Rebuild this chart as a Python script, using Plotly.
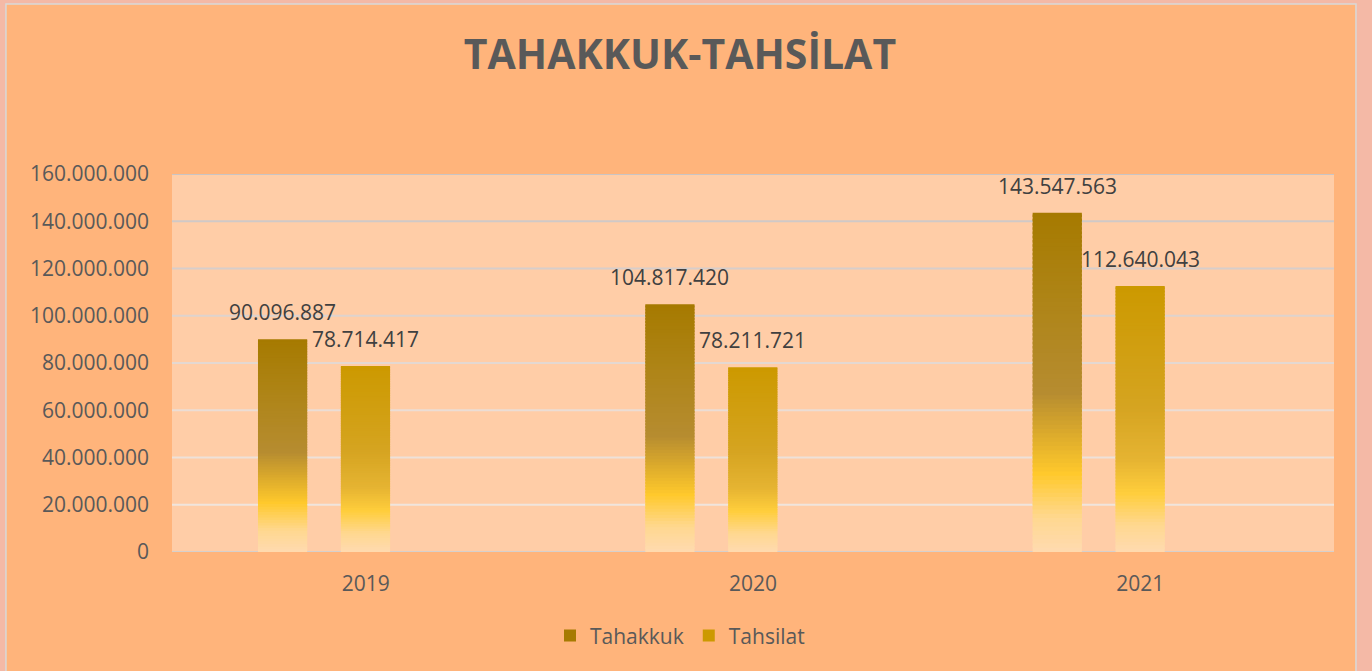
import plotly.graph_objects as go

years = ["2019", "2020", "2021"]
tahakkuk = [90096887, 104817420, 143547563]
tahsilat = [78714417, 78211721, 112640043]
y_ticks = [0, 20000000, 40000000, 60000000, 80000000, 100000000, 120000000, 140000000, 160000000]

FONT = "Open Sans"
TXT = "#595959"


def hex2rgb(h):
    h = h.lstrip("#")
    return [int(h[i:i + 2], 16) for i in (0, 2, 4)]


def grad(stops, t):
    # stops: list of (pos, hex), pos 0=bottom 1=top
    for (p0, c0), (p1, c1) in zip(stops, stops[1:]):
        if p0 <= t <= p1:
            f = 0 if p1 == p0 else (t - p0) / (p1 - p0)
            a, b = hex2rgb(c0), hex2rgb(c1)
            return "rgb(%d,%d,%d)" % tuple(round(a[i] + (b[i] - a[i]) * f) for i in range(3))
    return stops[-1][1]


stops_tahakkuk = [(0.0, "#FFDAB0"), (0.10, "#FFD890"), (0.23, "#FFC92C"), (0.35, "#DBAA2C"),
                  (0.47, "#B68C30"), (0.75, "#AE8416"), (1.0, "#A67A00")]
stops_tahsilat = [(0.0, "#FFDAB0"), (0.10, "#FFD890"), (0.22, "#FFCE3C"), (0.35, "#E5B332"),
                  (0.55, "#D5A420"), (1.0, "#CC9900")]

series = [
    ("Tahakkuk", tahakkuk, stops_tahakkuk, -0.278),
    ("Tahsilat", tahsilat, stops_tahsilat, -0.064),
]
BAR_W = 0.127
N = 80
CAT_PX = 1162 / 3

fig = go.Figure()
for name, vals, stops, off in series:
    # stacked gradient slices, each slightly overlapping the next one (drawn bottom -> top)
    for k in range(N):
        t = (k + 0.5) / N
        base = [v * k / N for v in vals]
        top = [v * min(k + 1.6, N) / N for v in vals]
        fig.add_trace(go.Bar(
            x=years,
            y=[tp - b for tp, b in zip(top, base)],
            base=base,
            offset=off, width=BAR_W,
            marker=dict(color=grad(stops, t), line=dict(width=0)),
            name=name, legendgroup=name,
            showlegend=(k == N - 1),
            hoverinfo="skip",
        ))

annotations = []
for name, vals, stops, off in series:
    for i, v in enumerate(vals):
        annotations.append(dict(
            x=i, y=v, xref="x", yref="y",
            text=f"{v:,}".replace(",", "."),
            showarrow=False, yanchor="bottom",
            xshift=(off + BAR_W / 2) * CAT_PX, yshift=11,
            font=dict(family=FONT, size=21, color="#404040"),
        ))

shapes = [
    dict(type="rect", xref="paper", yref="paper", x0=-0.1429, x1=1.0189, y0=-0.4, y1=1.4497,
         fillcolor="#FFB47B", line=dict(color="#D9D9D9", width=1.5), layer="below"),
    dict(type="rect", xref="paper", yref="paper", x0=0, x1=1, y0=0, y1=1,
         fillcolor="#FFCDA7", line=dict(width=0), layer="below"),
]
for tv in y_ticks:
    f = tv / y_ticks[-1]
    c = grad([(0.0, "#D6D0CC"), (0.05, "#F2E8E0"), (0.4, "#EADCD4"), (1.0, "#C9C4C4")], f)
    shapes.append(dict(type="line", xref="paper", yref="y", x0=0, x1=1, y0=tv, y1=tv,
                       line=dict(color=c, width=2), layer="below"))

fig.update_layout(
    width=1372, height=671,
    margin=dict(l=172, r=38, t=174, b=119),
    paper_bgcolor="#F4B9A6",
    plot_bgcolor="#FFCDA7",
    barmode="overlay",
    separators=",.",
    title=dict(text="<b>TAHAKKUK-TAHSİLAT</b>", x=680 / 1372, xanchor="center", xref="container",
               y=1 - 55 / 671, yanchor="middle", yref="container",
               font=dict(family=FONT, size=41, color=TXT)),
    xaxis=dict(type="category", categoryorder="array", categoryarray=years, range=[-0.5, 2.5],
               showgrid=False, showline=False, ticks="", zeroline=False,
               tickfont=dict(family=FONT, size=21, color=TXT), ticklabelstandoff=17),
    yaxis=dict(range=[0, 160000000], tickvals=y_ticks, tickformat=",d", showgrid=False,
               zeroline=False, showline=False, ticks="",
               tickfont=dict(family=FONT, size=21, color=TXT), ticklabelstandoff=22),
    legend=dict(orientation="h", x=(680 - 172) / 1162, xanchor="center", y=-0.222, yanchor="middle",
                font=dict(family=FONT, size=21, color=TXT), bgcolor="rgba(0,0,0,0)",
                itemwidth=30, tracegroupgap=0),
    annotations=annotations,
    shapes=shapes,
)

fig.write_html("out.html", config={"displayModeBar": False},
               post_script="document.body.style.margin='0';")
